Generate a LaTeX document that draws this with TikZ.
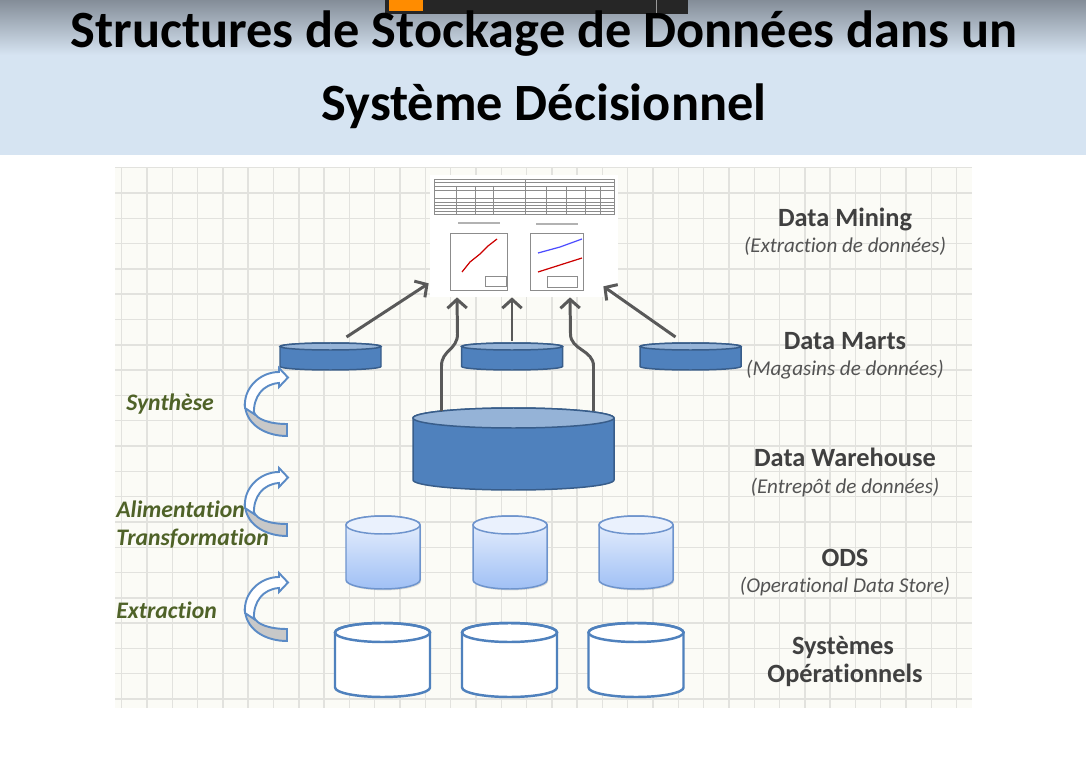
\documentclass[tikz,border=0pt]{standalone}
\usepackage{fontspec}
\setmainfont{Carlito}[Ligatures=NoCommon]
\usetikzlibrary{arrows.meta,calc,shadows}

\newcommand\pxu{0.02cm}
\definecolor{banner}{RGB}{214,228,242}
\definecolor{bannertop}{RGB}{132,141,152}
\definecolor{paper}{RGB}{251,251,246}
\definecolor{gridc}{RGB}{226,226,222}
\definecolor{dbblue}{RGB}{79,129,189}
\definecolor{dbtop}{RGB}{149,179,215}
\definecolor{dbline}{RGB}{56,93,138}
\definecolor{odstop}{RGB}{234,241,253}
\definecolor{odsbot}{RGB}{160,192,245}
\definecolor{odsline}{RGB}{110,148,205}
\definecolor{arrgray}{RGB}{89,89,89}
\definecolor{lblgray}{RGB}{64,64,64}
\definecolor{lblgreen}{RGB}{79,98,40}
\definecolor{cagray}{RGB}{200,200,200}
\definecolor{cablue}{RGB}{91,139,198}

% cylinder drawn inside the box of a named node: #1 node, #2 half height of the ends (px)
\newcommand\drawcyl[4]{%
  \path[#3] let \p1=(#1.south west), \p2=(#1.north east), \n1={(\x2-\x1)/2}, \n2={#2*\pxu} in
    (\x1,\y1+\n2) -- (\x1,\y2-\n2) arc[start angle=180, end angle=0, x radius=\n1, y radius=\n2]
    -- (\x2,\y1+\n2) arc[start angle=0, end angle=-180, x radius=\n1, y radius=\n2] -- cycle;
  \path[#4] let \p1=(#1.south west), \p2=(#1.north east), \n1={(\x2-\x1)/2}, \n2={#2*\pxu} in
    (\x1+\n1,\y2-\n2) ellipse[x radius=\n1, y radius=\n2];
}

\tikzset{
  store/.style={rectangle, inner sep=0pt, outer sep=0pt},
  mart/.style={store, minimum width=101*\pxu, minimum height=27*\pxu},
  whouse/.style={store, minimum width=201*\pxu, minimum height=82*\pxu},
  ods/.style={store, minimum width=74*\pxu, minimum height=73*\pxu},
  opsys/.style={store, minimum width=95*\pxu, minimum height=74*\pxu},
  arr/.style={draw=arrgray, line width=1.7pt, -{Straight Barb[length=5pt,width=11pt]}},
  hdr/.style={anchor=base, text=lblgray, font=\fontsize{15}{18}\selectfont\bfseries},
  sub/.style={anchor=base, text=lblgray!90, font=\fontsize{12}{14}\selectfont\itshape},
  step lbl/.style={anchor=base west, inner sep=0pt, text=lblgreen,
    font=\fontsize{13.5}{16}\selectfont\bfseries\itshape},
  curvarr/.pic={
    \filldraw[fill=cagray, draw=cablue, line width=1.1pt]
      (0,38) .. controls (2,58) and (22,68) .. (42,68) -- (42,56)
      .. controls (24,56) and (11,51) .. (9,44) -- cycle;
    \filldraw[fill=white, draw=cablue, line width=1.1pt]
      (34,15) .. controls (18,16) and (8,29) .. (9,46) -- (0,40)
      .. controls (-2,20) and (15,4) .. (34,4) -- (34,0) -- (43,9.5) -- (34,19) -- cycle;
  }
}

\begin{document}
\begin{tikzpicture}[x=\pxu, y=-\pxu]
  \useasboundingbox (0,0) rectangle (1086,757);
  \fill[white] (0,0) rectangle (1086,757);
  \fill[banner] (0,0) rectangle (1086,155);
  \shade[top color=bannertop, bottom color=banner] (0,0) rectangle (1086,55);
  \fill[black!85] (385,0) rectangle (688,14);
  \fill[orange!90!yellow] (389,0) rectangle (423,11);
  \draw[white!60!black] (656,0) -- (656,13);

  \node[anchor=base, font=\fontsize{29.8}{35}\selectfont\bfseries] (ttlA) at (544,48)
    {Structures de Stockage de Données dans un};
  \node[anchor=base, font=\fontsize{29.8}{35}\selectfont\bfseries] (ttlB) at (544,121)
    {Système Décisionnel};

  % squared paper
  \fill[paper] (115,168) rectangle (972,708);
  \foreach \i in {0,...,33}
    \draw[gridc, line width=0.8pt] ({121.7+25.3*\i},168) -- ({121.7+25.3*\i},708);
  \foreach \j in {-1,...,20}
    \draw[gridc, line width=0.8pt] (115,{193+25.3*\j}) -- (972,{193+25.3*\j});

  % data mining snapshot
  \node[fill=white, minimum width=188*\pxu, minimum height=122*\pxu, inner sep=0pt] (mine) at (524,236) {};
  \begin{scope}[black!45, line width=0.3pt]
    \draw (434,179) rectangle (614,214);
    \foreach \ty in {182.5,186,190,198,202,205,208,211} \draw (434,\ty) -- (614,\ty);
    \foreach \tx in {456,475,493,525,546,566,585,600} \draw (\tx,186) -- (\tx,214);
    \draw (525,179) -- (525,186);
    \draw (450,233) rectangle (507,290);
    \draw (530,233) rectangle (583,290);
    \draw[black!30, line width=1pt] (458,223) -- (500,223) (536,224) -- (578,224);
    \draw (485,276) rectangle (506,286) (547,276) rectangle (577,287);
  \end{scope}
  \draw[red!80!black, line width=0.7pt] (462,272) -- (470,262) -- (480,254) -- (488,246) -- (497,239);
  \draw[blue!70, line width=0.7pt] (538,253) -- (560,247) -- (582,239);
  \draw[red!80!black, line width=0.7pt] (538,272) -- (560,265) -- (582,258);

  % stores
  \node[mart] (dmL) at (330.5,356.5) {};
  \node[mart] (dmM) at (512,356.5) {};
  \node[mart] (dmR) at (690.5,356.5) {};
  \node[whouse] (dw) at (513.5,449) {};
  \node[ods] (odsA) at (383,552.5) {};
  \node[ods] (odsB) at (510,552.5) {};
  \node[ods] (odsC) at (636,552.5) {};
  \node[opsys] (sysA) at (382.5,660) {};
  \node[opsys] (sysB) at (509.5,660) {};
  \node[opsys] (sysC) at (636,660) {};
  \foreach \cy in {dmL,dmM,dmR}{
    \drawcyl{\cy}{3.5}{fill=dbblue, draw=dbline, line width=0.85pt}{fill=dbtop, draw=dbline, line width=0.85pt}
  }
  \drawcyl{dw}{10}{fill=dbblue, draw=dbline, line width=0.85pt}{fill=dbtop, draw=dbline, line width=0.85pt}
  \foreach \cy in {odsA,odsB,odsC}{
    \drawcyl{\cy}{9}{top color=odstop, bottom color=odsbot, draw=odsline, line width=0.85pt,
      drop shadow={shadow xshift=0.6pt, shadow yshift=-0.8pt, opacity=0.25}}{fill=odstop, draw=odsline, line width=0.85pt}
  }
  \foreach \cy in {sysA,sysB,sysC}{
    \drawcyl{\cy}{9.5}{fill=white, draw=dbblue, line width=1.4pt}{draw=dbblue, line width=1.4pt}
  }

  \draw[arr] ($(dmL.north)+(16,-6)$) -- ($(mine.south west)+(-1,-14)$);
  \draw[arr] ($(dmR.north)+(-15,-6)$) -- ($(mine.south east)+(-15,-11)$);
  \draw[arr] ($(dmM.north)+(0,-2)$) -- (dmM.north |- mine.south);
  \draw[arr] ($(dw.north)+(-72,3)$) -- ++(0,-45)
    .. controls +(0,-16) and +(0,16) .. ++(16,-32) -- ($(mine.south)+(-67,0)$);
  \draw[arr] ($(dw.north)+(80,3)$) -- ++(0,-45)
    .. controls +(0,-16) and +(0,16) .. ++(-23,-32) -- ($(mine.south)+(46,0)$);

  % levels
  \node[hdr] (tMine) at (845,226) {Data Mining};
  \node[sub] (sMine) at ([yshift=-15.3pt]tMine.base) {(Extraction de données)};
  \node[hdr] (tMart) at (845,349) {Data Marts};
  \node[sub] (sMart) at ([yshift=-15.3pt]tMart.base) {(Magasins de données)};
  \node[hdr] (tWare) at (845,466.5) {Data Warehouse};
  \node[sub] (sWare) at ([yshift=-15.3pt]tWare.base) {(Entrepôt de données)};
  \node[hdr] (tOds) at (845,566) {ODS};
  \node[sub] (sOds) at ([yshift=-15.3pt]tOds.base) {(Operational Data Store)};
  \node[hdr] (tSys) at (843,654) {Systèmes};
  \node[hdr] (tSysB) at ([yshift=-16pt]tSys.base -| tOds.base) {Opérationnels};

  % flows
  \pic at (245,368) {curvarr};
  \pic at (245,468) {curvarr};
  \pic at (245,573) {curvarr};
  \node[step lbl] (lSyn) at (126,410) {Synthèse};
  \node[step lbl] (lAli) at (116,517) {Alimentation};
  \node[step lbl] (lTra) at ([yshift=-16pt]lAli.base west) {Transformation};
  \node[step lbl] (lExt) at (116,618) {Extraction};
\end{tikzpicture}
\end{document}
